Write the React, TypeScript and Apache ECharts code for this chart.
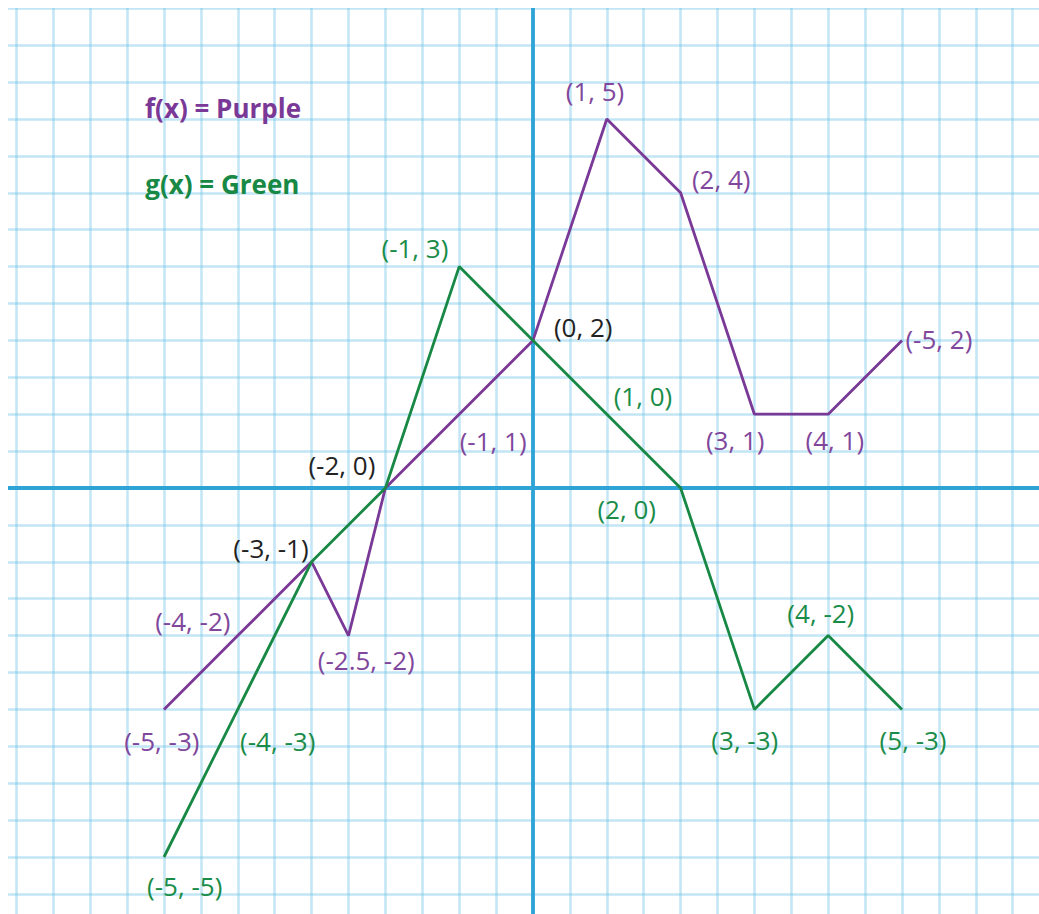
import React, { useEffect, useRef } from "react";
import * as echarts from "echarts";

// f(x) — purple polyline
const fX = [-5, -4, -3, -2.5, -2, -1, 0, 1, 2, 3, 4, 5];
const fY = [-3, -2, -1, -2, 0, 1, 2, 5, 4, 1, 1, 2];

// g(x) — green polyline
const gX = [-5, -4, -3, -2, -1, 0, 1, 2, 3, 4, 5];
const gY = [-5, -3, -1, 0, 3, 2, 1, 0, -3, -2, -3];

// point annotations (text + anchor in data coordinates)
const purpleLabelText = ["(1, 5)", "(2, 4)", "(-5, 2)", "(3, 1)", "(4, 1)", "(-1, 1)", "(-4, -2)", "(-2.5, -2)", "(-5, -3)"];
const purpleLabelX = [0.84, 2.55, 5.5, 2.74, 4.09, -0.54, -4.61, -2.26, -5.03];
const purpleLabelY = [5.38, 4.19, 2.02, 0.65, 0.65, 0.64, -1.8, -2.33, -3.43];

const greenLabelText = ["(-1, 3)", "(1, 0)", "(2, 0)", "(-4, -3)", "(-5, -5)", "(3, -3)", "(4, -2)", "(5, -3)"];
const greenLabelX = [-1.6, 1.49, 1.27, -3.46, -4.72, 2.87, 3.9, 5.15];
const greenLabelY = [3.25, 1.25, -0.28, -3.43, -5.39, -3.41, -1.69, -3.41];

const blackLabelText = ["(0, 2)", "(-2, 0)", "(-3, -1)"];
const blackLabelX = [0.68, -2.59, -3.55];
const blackLabelY = [2.18, 0.31, -0.81];

const legendText = ["f(x) = Purple", "g(x) = Green"];
const legendX = [-4.2, -4.21];
const legendY = [5.15, 4.12];

// axis ranges / grid spacing
const X_MIN = -7.5;
const X_MAX = 7.5;
const Y_MIN = -6.5;
const Y_MAX = 7;
const STEP = 0.5;

const PURPLE_LINE = "#7a3996";
const PURPLE_TEXT = "#80479c";
const GREEN_LINE = "#188845";
const GREEN_TEXT = "#1a8c49";
const BLACK_TEXT = "#222222";
const FONT = "'Open Sans', sans-serif";

function pairs(xs: number[], ys: number[]) {
  return xs.map((x, i) => [x, ys[i]]);
}

function labelSeries(texts: string[], xs: number[], ys: number[], color: string, fontSize: number, fontWeight: string) {
  return {
    type: "scatter",
    symbolSize: 1,
    itemStyle: { color: "rgba(0,0,0,0)", opacity: 1 },
    silent: true,
    z: 5,
    data: texts.map((t, i) => ({ name: t, value: [xs[i], ys[i]] })),
    label: {
      show: true,
      position: "inside",
      formatter: "{b}",
      color,
      opacity: 1,
      textBorderWidth: 0,
      fontSize,
      fontWeight,
      fontFamily: FONT,
    },
  };
}

export default function App() {
  const ref = useRef<HTMLDivElement>(null);

  useEffect(() => {
    if (!ref.current) return;
    const chart = echarts.init(ref.current, undefined, { renderer: "svg" });
    const axisLine = { show: true, onZero: true, lineStyle: { color: "#2ea3d5", width: 3.8 } };
    const splitLine = { show: true, lineStyle: { color: "rgba(110,196,232,0.42)", width: 2.5 } };
    chart.setOption({
      animation: false,
      backgroundColor: "#ffffff",
      grid: { left: 31.5, right: 12.5, top: 23.4, bottom: 6.3, containLabel: false },
      xAxis: {
        type: "value",
        min: X_MIN,
        max: X_MAX,
        interval: STEP,
        axisLine,
        axisTick: { show: false },
        axisLabel: { show: false },
        splitLine,
      },
      yAxis: {
        type: "value",
        min: Y_MIN,
        max: Y_MAX,
        interval: STEP,
        axisLine,
        axisTick: { show: false },
        axisLabel: { show: false },
        splitLine,
      },
      series: [
        {
          type: "line",
          data: pairs(fX, fY),
          symbol: "none",
          z: 3,
          lineStyle: { color: PURPLE_LINE, width: 2.8 },
        },
        {
          type: "line",
          data: pairs(gX, gY),
          symbol: "none",
          z: 4,
          lineStyle: { color: GREEN_LINE, width: 2.8 },
        },
        labelSeries(purpleLabelText, purpleLabelX, purpleLabelY, PURPLE_TEXT, 26, "normal"),
        labelSeries(greenLabelText, greenLabelX, greenLabelY, GREEN_TEXT, 26, "normal"),
        labelSeries(blackLabelText, blackLabelX, blackLabelY, BLACK_TEXT, 26, "normal"),
        labelSeries([legendText[0]], [legendX[0]], [legendY[0]], PURPLE_LINE, 26, "bold"),
        labelSeries([legendText[1]], [legendX[1]], [legendY[1]], GREEN_LINE, 26, "bold"),
      ],
    });
    return () => chart.dispose();
  }, []);

  return (
    <div style={{ position: "absolute", left: 8, top: 8, width: 1031, height: 906, overflow: "hidden", background: "#fff" }}>
      <div ref={ref} style={{ position: "absolute", left: -60, top: -60, width: 1151, height: 1026 }} />
    </div>
  );
}
